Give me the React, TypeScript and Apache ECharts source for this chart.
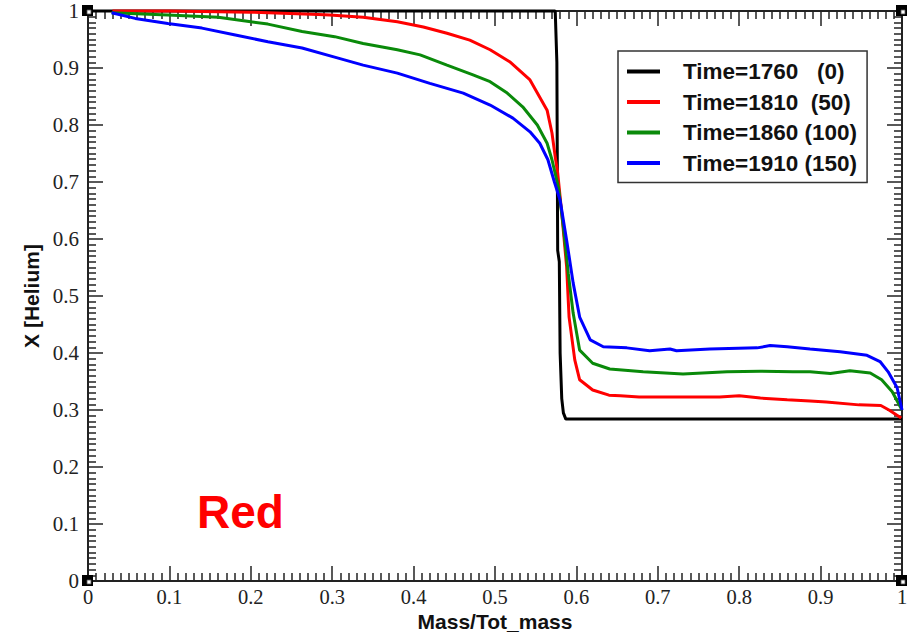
import React, { useEffect, useRef } from "react";
import * as echarts from "echarts";

const seriesNames = [
  "Time=1760\u00a0\u00a0\u00a0(0)",
  "Time=1810\u00a0\u00a0(50)",
  "Time=1860\u00a0(100)",
  "Time=1910\u00a0(150)",
];
const seriesColors = ["#000000", "#ff0000", "#0a8a0a", "#0000ff"];

const black: number[][] = [
  [0, 1], [0.574, 1], [0.576, 0.91], [0.577, 0.58], [0.579, 0.56], [0.58, 0.4],
  [0.582, 0.32], [0.584, 0.295], [0.587, 0.284], [1, 0.284],
];
const red: number[][] = [
  [0.03, 1.0], [0.1, 1.0], [0.2, 0.998], [0.283, 0.994], [0.297, 0.993], [0.338, 0.989],
  [0.38, 0.981], [0.412, 0.972], [0.441, 0.961], [0.469, 0.949], [0.494, 0.932],
  [0.518, 0.911], [0.543, 0.879], [0.564, 0.826], [0.57, 0.786], [0.574, 0.744],
  [0.577, 0.716], [0.582, 0.646], [0.588, 0.551], [0.591, 0.463], [0.598, 0.388],
  [0.604, 0.353], [0.62, 0.335], [0.64, 0.326], [0.654, 0.325], [0.677, 0.323],
  [0.731, 0.323], [0.776, 0.323], [0.8, 0.325], [0.826, 0.321], [0.859, 0.318],
  [0.887, 0.316], [0.907, 0.314], [0.947, 0.309], [0.974, 0.308], [0.984, 0.3],
  [0.999, 0.286],
];
const green: number[][] = [
  [0.029, 0.997], [0.098, 0.993], [0.16, 0.989], [0.2, 0.981], [0.221, 0.977],
  [0.263, 0.964], [0.303, 0.955], [0.338, 0.943], [0.38, 0.932], [0.408, 0.923],
  [0.441, 0.905], [0.473, 0.888], [0.494, 0.876], [0.515, 0.856], [0.534, 0.832],
  [0.552, 0.8], [0.564, 0.768], [0.57, 0.739], [0.578, 0.69], [0.584, 0.621],
  [0.59, 0.54], [0.596, 0.47], [0.604, 0.405], [0.62, 0.382], [0.641, 0.372],
  [0.682, 0.367], [0.731, 0.363], [0.785, 0.367], [0.826, 0.368], [0.866, 0.367],
  [0.887, 0.367], [0.912, 0.364], [0.936, 0.369], [0.961, 0.365], [0.975, 0.353],
  [0.988, 0.332], [1.0, 0.3],
];
const blue: number[][] = [
  [0.029, 0.997], [0.058, 0.987], [0.098, 0.978], [0.14, 0.97], [0.181, 0.958],
  [0.221, 0.946], [0.263, 0.935], [0.303, 0.919], [0.338, 0.905], [0.38, 0.891],
  [0.42, 0.873], [0.461, 0.856], [0.494, 0.835], [0.522, 0.812], [0.543, 0.788],
  [0.555, 0.768], [0.565, 0.739], [0.573, 0.7], [0.58, 0.668], [0.588, 0.598],
  [0.596, 0.523], [0.604, 0.463], [0.617, 0.423], [0.633, 0.411], [0.662, 0.409],
  [0.69, 0.404], [0.715, 0.407], [0.723, 0.404], [0.764, 0.407], [0.822, 0.409],
  [0.838, 0.413], [0.859, 0.411], [0.887, 0.407], [0.924, 0.402], [0.957, 0.396],
  [0.973, 0.385], [0.983, 0.367], [0.994, 0.339], [1.0, 0.3],
];
const allSeries = [black, red, green, blue];

const AX = "#222";
const serif = "'Liberation Serif', 'Times New Roman', serif";
const sans = "'Liberation Sans', Arial, sans-serif";

function makeAxis(kind: "x" | "y", position: string, showLabel: boolean, name?: string) {
  const a: any = {
    type: "value",
    min: 0,
    max: 1,
    interval: 0.1,
    position,
    axisLine: { show: true, onZero: false, lineStyle: { color: AX, width: 2 } },
    axisTick: { show: true, inside: true, length: 15, lineStyle: { color: AX, width: 1.5 } },
    minorTick: { show: true, splitNumber: 10, length: 8, lineStyle: { color: AX, width: 1.5 } },
    splitLine: { show: false },
    axisLabel: {
      show: showLabel,
      fontFamily: serif,
      fontSize: kind === "x" ? 20.5 : 21,
      lineHeight: 20,
      color: AX,
      margin: kind === "x" ? 6 : 9,
      formatter: (v: number) => String(Math.round(v * 10) / 10),
    },
  };
  if (name) {
    a.name = name;
    a.nameLocation = "middle";
    a.nameMoveOverlap = false;
    a.nameGap = kind === "x" ? 31.5 : 48;
    a.nameTextStyle = {
      fontFamily: sans,
      fontWeight: "bold",
      fontSize: 21,
      lineHeight: 18,
      color: "#111",
    };
  }
  return a;
}

export default function App() {
  const ref = useRef<HTMLDivElement>(null);
  useEffect(() => {
    if (!ref.current) return;
    const chart = echarts.init(ref.current, undefined, { renderer: "svg" });
    const option: any = {
      animation: false,
      backgroundColor: "#fff",
      grid: { left: 88, right: 12, top: 11, bottom: 53, containLabel: false, outerBoundsMode: "none" },
      xAxis: [makeAxis("x", "bottom", true, "Mass/Tot_mass"), makeAxis("x", "top", false)],
      yAxis: [makeAxis("y", "left", true, "X [Helium]"), makeAxis("y", "right", false)],
      legend: {
        orient: "vertical",
        left: 618,
        top: 51,
        padding: [9, 10, 8, 9],
        borderColor: "#333",
        borderWidth: 1.5,
        backgroundColor: "#fff",
        icon: "rect",
        itemWidth: 33,
        itemHeight: 4,
        itemGap: 7.5,
        textStyle: {
          fontFamily: sans,
          fontWeight: "bold",
          fontSize: 22.5,
          lineHeight: 22,
          color: "#111",
          padding: [0, 0, 0, 18],
        },
        data: seriesNames,
      },
      series: allSeries.map((d, i) => ({
        name: seriesNames[i],
        type: "line",
        data: d,
        showSymbol: false,
        clip: false,
        color: seriesColors[i],
        lineStyle: { color: seriesColors[i], width: 3 },
        z: 2 + i,
      })),
    };
    chart.setOption(option);
    const corners = [
      [0, 1],
      [1, 1],
      [0, 0],
      [1, 0],
    ].map((c) => chart.convertToPixel({ gridIndex: 0 } as any, c) as number[]);
    const graphics: any[] = [];
    corners.forEach((p) => {
      graphics.push({
        type: "rect",
        shape: { x: p[0] - 6, y: p[1] - 6, width: 11, height: 11 },
        style: { fill: "#000" },
        z: 100,
      });
      graphics.push({
        type: "rect",
        shape: { x: p[0] - 1, y: p[1] - 1, width: 4, height: 4 },
        style: { fill: "#fff", stroke: "#555", lineWidth: 0.8 },
        z: 101,
      });
    });
    graphics.push({
      type: "text",
      x: 197,
      y: 512,
      style: {
        text: "Red",
        fill: "#ff0000",
        font: "bold 46px 'Liberation Sans', Arial, sans-serif",
        verticalAlign: "middle",
        align: "left",
      },
      z: 100,
    });
    chart.setOption({ graphic: graphics });
    return () => chart.dispose();
  }, []);
  return (
    <div
      ref={ref}
      style={{ position: "absolute", left: 0, top: 0, width: 914, height: 634, background: "#fff" }}
    />
  );
}
